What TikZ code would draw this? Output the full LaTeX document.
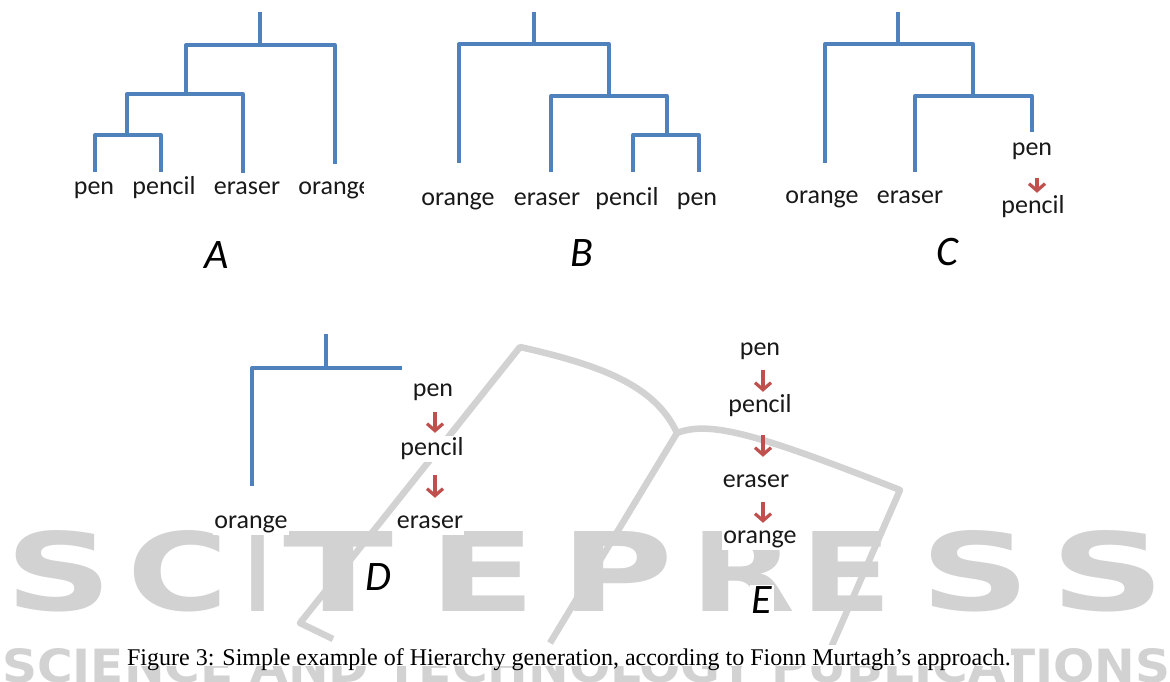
\documentclass[tikz,border=0pt]{standalone}
\usepackage{fontspec}
\setmainfont{Carlito}
\newfontfamily\capfont{Liberation Serif}
\newfontfamily\wmfont{DejaVu Sans}
\usetikzlibrary{arrows.meta,calc}
\definecolor{dblue}{RGB}{79,129,189}
\definecolor{dred}{RGB}{192,80,77}
\definecolor{wmgray}{RGB}{210,210,210}
\definecolor{txt}{RGB}{25,25,25}
\newcommand{\wmletter}[4]{\node[wm,anchor=south west] (#4) at (#1,612) {\resizebox{#2pt}{80pt}{\wmfont\bfseries #3}};}
\begin{document}
\begin{tikzpicture}[x=1pt,y=-1pt,
  tree/.style={draw=dblue,line width=3.3pt,line join=round},
  lbl/.style={font=\fontsize{26}{30}\selectfont,text=txt,fill=white,inner sep=1pt,anchor=base,text height=18pt,text depth=6pt},
  big/.style={font=\fontsize{42}{48}\selectfont\itshape,text=black,fill=white,inner sep=2pt},
  rarr/.style={draw=dred,line width=3.2pt,-{Straight Barb[length=7pt,width=16pt]}},
  wmline/.style={draw=wmgray,line width=6.5pt,line join=round},
  wm/.style={text=wmgray,inner sep=0pt}]
\fill[white] (0,0) rectangle (1170,682);
\useasboundingbox (0,0) rectangle (1170,682);

% watermark
\wmletter{5}{107}{S}{w1}
\wmletter{127}{101}{C}{w2}
\wmletter{245}{25}{I}{w3}
\wmletter{283}{110}{T}{w4}
\wmletter{428}{108}{E}{w5}
\wmletter{560}{113}{P}{w6}
\wmletter{690}{105}{R}{w7}
\wmletter{800}{92}{E}{w8}
\wmletter{920}{110}{S}{w9}
\wmletter{1050}{115}{S}{w10}
\node[wm,anchor=north west] (wm2) at (2,648) {\resizebox{1168pt}{34pt}{\wmfont\bfseries SCIENCE AND TECHNOLOGY PUBLICATIONS}};
\draw[wmline] (333,639) -- (300,623) -- (520,347) .. controls (600,365) and (655,385) .. (677,433) .. controls (710,420) and (760,435) .. (900,490) -- (830,650);
\draw[wmline] (677,433) -- (550,643);

% tree A
\coordinate (Apen) at (95,172);
\coordinate (Apencil) at (161,172);
\coordinate (Aeraser) at (243,173);
\coordinate (Aorange) at (335,164);
\coordinate (A1) at (127,135);
\coordinate (A2) at (186,94);
\coordinate (A3) at (260,45);
\coordinate (Atop) at (260,12);
\draw[tree] (Apen) |- (A1) -| (Apencil);
\draw[tree] (A1) |- (A2) -| (Aeraser);
\draw[tree] (A2) |- (A3) -| (Aorange);
\draw[tree] (A3) -- (Atop);

% tree B
\coordinate (Borange) at (459,163);
\coordinate (Beraser) at (551,172);
\coordinate (Bpencil) at (633,172);
\coordinate (Bpen) at (699,172);
\coordinate (B1) at (667,135);
\coordinate (B2) at (609,96);
\coordinate (B3) at (534,44);
\coordinate (Btop) at (534,12);
\draw[tree] (Bpencil) |- (B1) -| (Bpen);
\draw[tree] (Beraser) |- (B2) -| (B1);
\draw[tree] (Borange) |- (B3) -| (B2);
\draw[tree] (B3) -- (Btop);

% tree C
\coordinate (Corange) at (825,163);
\coordinate (Ceraser) at (915,172);
\coordinate (Cpen) at (1032,132);
\coordinate (C1) at (973,96);
\coordinate (C2) at (898,44);
\coordinate (Ctop) at (898,12);
\draw[tree] (Ceraser) |- (C1) -| (Cpen);
\draw[tree] (Corange) |- (C2) -| (C1);
\draw[tree] (C2) -- (Ctop);

% tree D
\coordinate (Dorange) at (252,486);
\coordinate (D1) at (326,368);
\coordinate (Dend) at (402,368);
\coordinate (Dtop) at (326,334);
\draw[tree] (Dorange) |- (D1) -- (Dend);
\draw[tree] (D1) -- (Dtop);

% labels A
\node[lbl] (lApen) at (94,194) {pen};
\node[lbl] (lApencil) at (164,194) {pencil};
\node[lbl] (lAeraser) at (247,194) {eraser};
\begin{scope}
\clip (0,0) rectangle (363,682);
\node[lbl] (lAorange) at (335,194) {orange};
\end{scope}
% labels B
\node[lbl] (lBorange) at (458,205) {orange};
\node[lbl] (lBeraser) at (547,205) {eraser};
\node[lbl] (lBpencil) at (627,205) {pencil};
\node[lbl] (lBpen) at (697,205) {pen};
% labels C
\node[lbl] (lCorange) at (822,204) {orange};
\node[lbl] (lCeraser) at (910,204) {eraser};
\node[lbl] (lCpen) at (1032,156) {pen};
\node[lbl] (lCpencil) at (1033,213) {pencil};
% labels D
\node[lbl] (lDpen) at (433,396) {pen};
\node[lbl] (lDpencil) at (432,455) {pencil};
\node[lbl] (lDeraser) at (430,528) {eraser};
\node[lbl] (lDorange) at (251,528) {orange};
% labels E
\node[lbl] (lEpen) at (760,355) {pen};
\node[lbl] (lEpencil) at (760,412) {pencil};
\node[lbl] (lEeraser) at (756,487) {eraser};
\node[lbl] (lEorange) at (760,543) {orange};

% big letters
\node[big] (LA) at (217,255) {A};
\node[big] (LB) at (582,253) {B};
\node[big] (LC) at (947,252) {C};
\node[big] (LD) at (378,577) {D};
\node[big] (LE) at (762,600) {E};

% arrows
\draw[rarr] ([xshift=5pt,yshift=-15pt]lCpen.south) -- ([xshift=4pt,yshift=1pt]lCpencil.north);
\draw[rarr] ([xshift=2pt,yshift=-9pt]lDpen.south) -- ([xshift=3pt,yshift=3pt]lDpencil.north);
\draw[rarr] ([xshift=3pt,yshift=-13pt]lDpencil.south) -- ([xshift=5pt,yshift=11pt]lDeraser.north);
\draw[rarr] ([xshift=3pt,yshift=-8pt]lEpen.south) -- ([xshift=3pt,yshift=1pt]lEpencil.north);
\draw[rarr] ([xshift=3pt,yshift=-16pt]lEpencil.south) -- ([xshift=7pt,yshift=11pt]lEeraser.north);
\draw[rarr] ([xshift=7pt,yshift=-8pt]lEeraser.south) -- ([xshift=3pt,yshift=1pt]lEorange.north);

% caption
\node[font=\capfont\fontsize{24}{28}\selectfont,text=black,fill=white,inner sep=0pt,anchor=base,text height=20pt,text depth=1pt] (cap) at (569,665) {Figure 3: Simple example of Hierarchy generation, according to Fionn Murtagh’s approach.};
\end{tikzpicture}
\end{document}
